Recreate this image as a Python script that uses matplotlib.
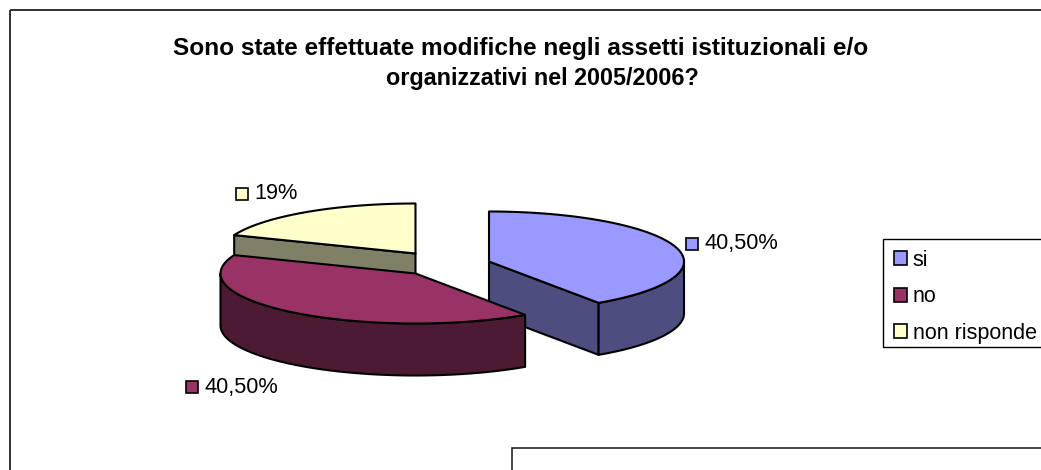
import numpy as np
import matplotlib
matplotlib.use("Agg")
import matplotlib.pyplot as plt
from matplotlib.patches import Polygon, Rectangle, Patch

categories = ["si", "no", "non risponde"]
shares = [40.5, 40.5, 19.0]
value_labels = ["40,50%", "40,50%", "19%"]
top_colors = ["#9999FF", "#993366", "#FFFFCC"]
side_colors = ["#4D4D80", "#4D1A33", "#808066"]
title_lines = ["Sono state effettuate modifiche negli assetti istituzionali e/o",
               "organizzativi nel 2005/2006?"]

W, H = 1041, 470
FS = 15.5
plt.rcParams["font.family"] = ["Liberation Sans", "DejaVu Sans"]

fig = plt.figure(figsize=(W / 100, H / 100), dpi=100)
ax = fig.add_axes([0, 0, 1, 1])
ax.set_xlim(0, W)
ax.set_ylim(H, 0)
ax.axis("off")

RX, RY, DEPTH = 195.0, 50.0, 52.0
centers = [(489.0, 261.5), (415.5, 273.5), (415.5, 253.5)]
LW = 1.5


def pt(c, a, dz=0.0):
    a = np.radians(a)
    return np.column_stack([c[0] + RX * np.sin(a), c[1] - RY * np.cos(a) + dz])


def arc(c, a0, a1, dz=0.0):
    return pt(c, np.linspace(a0, a1, max(int(abs(a1 - a0)) * 2, 2)), dz)


def poly(xy, color, z):
    ax.add_patch(Polygon(xy, closed=True, facecolor=color, edgecolor="black",
                         linewidth=LW, joinstyle="round", zorder=z))


edges = np.cumsum([0.0] + shares) * 3.6


def draw_slice(i, z):
    c, a0, a1 = centers[i], edges[i], edges[i + 1]
    apex = np.array([c])
    apex_low = np.array([[c[0], c[1] + DEPTH]])
    # radial walls that face the viewer
    if 0 < a1 < 180:
        poly(np.vstack([apex, pt(c, a1), pt(c, a1, DEPTH), apex_low]), side_colors[i], z)
    if 180 < a0 < 360:
        poly(np.vstack([apex, pt(c, a0), pt(c, a0, DEPTH), apex_low]), side_colors[i], z)
    # outer wall, front half only
    w0, w1 = max(a0, 90.0), min(a1, 270.0)
    if w1 > w0:
        poly(np.vstack([arc(c, w0, w1), arc(c, w1, w0, DEPTH)]), side_colors[i], z)
    poly(np.vstack([apex, arc(c, a0, a1)]), top_colors[i], z + 0.5)


draw_slice(2, 2)
draw_slice(0, 3)
draw_slice(1, 4)

# chart frame and the box below it
ax.add_patch(Rectangle((10, 10), W, H, facecolor="none", edgecolor="#222222", linewidth=1.3, zorder=1))
ax.add_patch(Rectangle((512, 448), W, H, facecolor="white", edgecolor="#111111", linewidth=1.1, zorder=6))

# title
ax.text(520.5, 55, title_lines[0], ha="center", va="baseline", fontsize=17.6, fontweight="bold", color="black")
ax.text(542, 85, title_lines[1], ha="center", va="baseline", fontsize=16.8, fontweight="bold", color="black")

# data labels with colour keys
label_pos = [(686, 244), (186, 387), (236, 193.5)]
for (x, y), txt, col in zip(label_pos, value_labels, top_colors):
    ax.add_patch(Rectangle((x, y - 6), 12, 12, facecolor=col, edgecolor="black", linewidth=1.2, zorder=7))
    ax.text(x + 18.5, y, txt, ha="left", va="center", fontsize=15.7, color="black", zorder=7)

# legend
ax.add_patch(Rectangle((883, 239), W, 108, facecolor="white", edgecolor="black", linewidth=1.0, zorder=7))
handles = [Patch(facecolor=c, edgecolor="black", linewidth=1.2) for c in top_colors]
leg = ax.legend(handles, categories, loc="upper left", bbox_to_anchor=(883, 239),
                bbox_transform=ax.transData, borderaxespad=0, fontsize=FS, frameon=False,
                handlelength=0.6, handleheight=0.6, handletextpad=0.28, labelspacing=0.72, borderpad=0.5)
leg.set_zorder(8)

fig.savefig("out.png", dpi=100)
